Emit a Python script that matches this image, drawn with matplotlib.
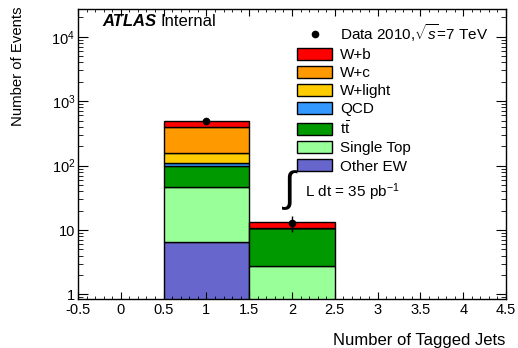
import numpy as np
import matplotlib.pyplot as plt
from matplotlib.patches import Patch
from matplotlib.lines import Line2D
from matplotlib.ticker import MultipleLocator, LogLocator, NullFormatter, FixedLocator

plt.rcParams['font.family'] = ['Liberation Sans', 'DejaVu Sans']
plt.rcParams['mathtext.fontset'] = 'custom'
plt.rcParams['mathtext.rm'] = 'Liberation Sans'
plt.rcParams['mathtext.it'] = 'Liberation Sans:italic'

# bins (number of tagged jets)
bin_centers = [1, 2]
# stacked backgrounds, bottom to top
samples = ['Other EW', 'Single Top', r'$\mathrm{t\bar{t}}$', 'QCD', 'W+light', 'W+c', 'W+b']
colors = ['#6666cc', '#99ff99', '#009900', '#3399ff', '#ffcc00', '#ff9900', '#ff0000']
other_ew = [6.6, 0.0]
single_top = [40, 2.74]
ttbar = [52, 7.9]
qcd = [12, 0.0]
w_light = [45, 0.0]
w_c = [236, 0.0]
w_b = [100, 2.9]
stack = [other_ew, single_top, ttbar, qcd, w_light, w_c, w_b]
data = [487, 13]

fig = plt.figure(figsize=(5.18, 3.48), dpi=100)
ax = fig.add_axes([78/518, 1-299/348, 428/518, 290/348])

bottom = np.zeros(2)
for vals, col in zip(stack, colors):
    vals = np.array(vals, dtype=float)
    ax.bar(bin_centers, vals, width=1.0, bottom=bottom, color=col,
           edgecolor='black', linewidth=1.0)
    bottom += vals

ax.errorbar(bin_centers, data, yerr=np.sqrt(data), fmt='o', color='black',
            markersize=4.5, elinewidth=1, capsize=0)

ax.set_yscale('log')
ax.set_xlim(-0.5, 4.5)
ax.set_ylim(0.85, 2.7e4)

ax.xaxis.set_minor_locator(MultipleLocator(0.1))
ax.set_xticks([-0.5, 0, 0.5, 1, 1.5, 2, 2.5, 3, 3.5, 4, 4.5])
ax.set_xticklabels(['-0.5', '0', '0.5', '1', '1.5', '2', '2.5', '3', '3.5', '4', '4.5'])
ax.yaxis.set_major_locator(FixedLocator([1, 10, 100, 1000, 10000]))
ax.set_yticklabels(['1', '10', r'$10^2$', r'$10^3$', r'$10^4$'])
ax.yaxis.set_minor_locator(LogLocator(base=10, subs=np.arange(2, 10)))
ax.yaxis.set_minor_formatter(NullFormatter())
ax.tick_params(which='both', direction='in', top=True, right=True, labelsize=10.5)
ax.tick_params(axis='x', which='major', length=5, pad=3)
ax.tick_params(axis='x', which='minor', length=2.5)
ax.tick_params(axis='y', which='major', length=7, pad=2)
ax.tick_params(axis='y', which='minor', length=3.5)
for sp in ax.spines.values():
    sp.set_linewidth(1.0)

fig.text(505/518, 1-340/348, 'Number of Tagged Jets', ha='right', va='center', fontsize=12)
fig.text(18/518, 1-7/348, 'Number of Events', rotation=90, ha='center', va='top', fontsize=10.7)

fig.text(102/518, 1-22/348, 'ATLAS', fontsize=12, fontweight='bold', style='italic', va='center')
fig.text(160/518, 1-22/348, 'Internal', fontsize=12, va='center')

# legend
handles = [Line2D([], [], marker='o', color='black', linestyle='none', markersize=4.5)]
labels = [r'Data 2010,$\sqrt{s}$=7 TeV']
for name, col in zip(samples[::-1], colors[::-1]):
    handles.append(Patch(facecolor=col, edgecolor='black', linewidth=1.0))
    labels.append(name)
fig.legend(handles, labels, loc='upper left', bbox_to_anchor=(297/518, 1-22/348),
           frameon=False, fontsize=11, borderpad=0, borderaxespad=0,
           handlelength=2.3, handleheight=0.8, labelspacing=0.26, handletextpad=0.5)

fig.text(291/518, 1-190/348, r'$\int$', fontsize=30, ha='center', va='center')
fig.text(305/518, 1-192/348, r'L dt = 35 pb$^{\mathregular{-1}}$', fontsize=11, va='center')

fig.savefig('out.png', dpi=100)
